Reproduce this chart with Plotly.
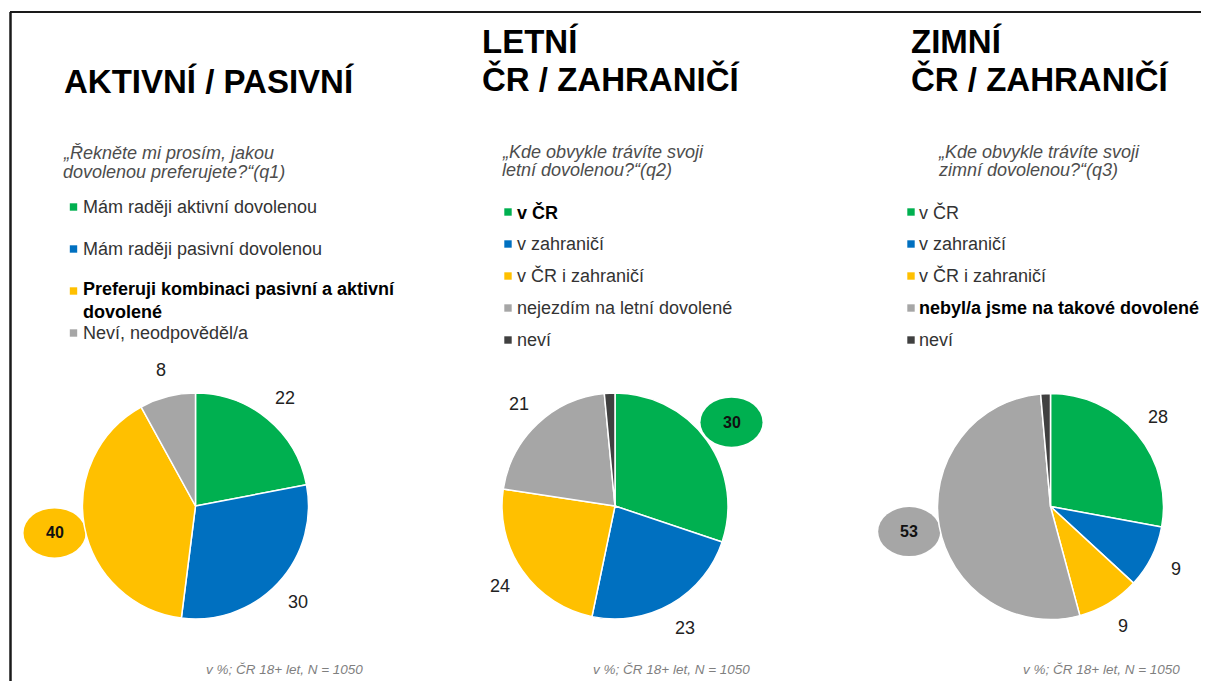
import math
import textwrap
import plotly.graph_objects as go

# ---------------- data ----------------
q1_categories = ["Mám raději aktivní dovolenou", "Mám raději pasivní dovolenou",
                 "Preferuji kombinaci pasivní a aktivní dovolené", "Neví, neodpověděl/a"]
q1_values = [22, 30, 40, 8]
q1_highlight = 2

q2_categories = ["v ČR", "v zahraničí", "v ČR i zahraničí", "nejezdím na letní dovolené", "neví"]
q2_values = [30, 23, 24, 21, 1.5]
q2_highlight = 0

q3_categories = ["v ČR", "v zahraničí", "v ČR i zahraničí", "nebyl/a jsme na takové dovolené", "neví"]
q3_values = [28, 9, 9, 53, 1.4]
q3_highlight = 3

q1_colors = ["#00B050", "#0070C0", "#FFC000", "#A6A6A6"]
q23_colors = ["#00B050", "#0070C0", "#FFC000", "#A6A6A6", "#404040"]

q1_title = ["AKTIVNÍ / PASIVNÍ"]
q2_title = ["LETNÍ", "ČR / ZAHRANIČÍ"]
q3_title = ["ZIMNÍ", "ČR / ZAHRANIČÍ"]

q1_question = ["„Řekněte mi prosím, jakou", "dovolenou preferujete?“(q1)"]
q2_question = ["„Kde obvykle trávíte svoji", "letní dovolenou?“(q2)"]
q3_question = ["„Kde obvykle trávíte svoji", "zimní dovolenou?“(q3)"]

footer_text = "v %; ČR 18+ let, N = 1050"

# ---------------- layout config (pixels, in window coordinates) ----------------
OFF = 8                      # default page margin of the html body
W, H = 1209 - OFF, 681 - OFF
FONT = "Arial, Liberation Sans, sans-serif"


def px(x):
    return (x - OFF) / W


def py(y):
    return 1 - (y - OFF) / H


panels = [
    dict(cats=q1_categories, vals=q1_values, cols=q1_colors, hl=q1_highlight,
         title=q1_title, title_x=62, title_y=[81],
         question=q1_question, q_x=61, q_y=[153, 172],
         cx=195.5, cy=506, r=113,
         leg_sq=73.5, leg_x=81, leg_y0=207, leg_step=42,
         foot_x=284),
    dict(cats=q2_categories, vals=q2_values, cols=q23_colors, hl=q2_highlight,
         title=q2_title, title_x=480, title_y=[41, 79.5],
         question=q2_question, q_x=500, q_y=[152, 170],
         cx=615, cy=506, r=113,
         leg_sq=508, leg_x=515, leg_y0=212, leg_step=32,
         foot_x=671),
    dict(cats=q3_categories, vals=q3_values, cols=q23_colors, hl=q3_highlight,
         title=q3_title, title_x=909, title_y=[41, 79.5],
         question=q3_question, q_x=936, q_y=[152, 170],
         cx=1050.5, cy=506.5, r=113,
         leg_sq=911, leg_x=917, leg_y0=212, leg_step=32,
         foot_x=1101),
]

LABEL_DIST = 1.24
BUBBLE_DIST = 1.27
FOOT_Y = 669

fig = go.Figure()
annotations = []
shapes = []

# frame
shapes.append(dict(type="line", xref="paper", yref="paper", x0=px(10), x1=px(1215),
                   y0=py(12), y1=py(12), line=dict(color="#1a1a1a", width=2)))
shapes.append(dict(type="line", xref="paper", yref="paper", x0=px(10.5), x1=px(10.5),
                   y0=py(12), y1=py(690), line=dict(color="#1a1a1a", width=2.5)))

for p in panels:
    cx, cy, r = p["cx"], p["cy"], p["r"]
    fig.add_trace(go.Pie(
        labels=p["cats"], values=p["vals"],
        marker=dict(colors=p["cols"], line=dict(color="white", width=1.5)),
        sort=False, direction="clockwise", rotation=0,
        textinfo="none", showlegend=False,
        domain=dict(x=[px(cx - r), px(cx + r)], y=[py(cy + r), py(cy - r)]),
        hoverinfo="label+value",
    ))

    # value labels
    total = sum(p["vals"])
    cum = 0
    for i, v in enumerate(p["vals"]):
        mid = math.radians((cum + v / 2) / total * 360)
        cum += v
        if v < 5:
            continue
        d = (BUBBLE_DIST if i == p["hl"] else LABEL_DIST) * r
        lx = cx + d * math.sin(mid)
        ly = cy - d * math.cos(mid)
        if i == p["hl"]:
            shapes.append(dict(type="circle", xref="paper", yref="paper", layer="below",
                               x0=px(lx - 31), x1=px(lx + 31), y0=py(ly + 24.5), y1=py(ly - 24.5),
                               fillcolor=p["cols"][i], line=dict(width=0)))
            annotations.append(dict(x=px(lx), y=py(ly), xref="paper", yref="paper",
                                    text=f"<b>{v:g}</b>", showarrow=False,
                                    font=dict(family=FONT, size=16, color="#111111"),
                                    xanchor="center", yanchor="middle"))
        else:
            annotations.append(dict(x=px(lx), y=py(ly), xref="paper", yref="paper",
                                    text=f"{v:g}", showarrow=False,
                                    font=dict(family=FONT, size=18, color="#222222"),
                                    xanchor="center", yanchor="middle"))

    # titles
    for line, ty in zip(p["title"], p["title_y"]):
        annotations.append(dict(x=px(p["title_x"]), y=py(ty), xref="paper", yref="paper",
                                text=f"<b>{line}</b>", showarrow=False,
                                font=dict(family=FONT, size=33, color="#000000"),
                                xanchor="left", yanchor="middle"))
    # question
    for line, qy in zip(p["question"], p["q_y"]):
        annotations.append(dict(x=px(p["q_x"]), y=py(qy), xref="paper", yref="paper",
                                text=f"<i>{line}</i>", showarrow=False,
                                font=dict(family=FONT, size=18, color="#4d4d4d"),
                                xanchor="left", yanchor="middle"))
    # legend
    fs = 18
    for i, (cat, col) in enumerate(zip(p["cats"], p["cols"])):
        ly = p["leg_y0"] + i * p["leg_step"]
        lines = textwrap.wrap(cat, 38)
        txt = "<br>".join(lines)
        if i == p["hl"]:
            txt = "<br>".join(f"<b>{l}</b>" for l in lines)
        center = ly + (len(lines) - 1) * 19 / 2
        shapes.append(dict(type="rect", xref="paper", yref="paper",
                           x0=px(p["leg_sq"] - 3.7), x1=px(p["leg_sq"] + 3.7),
                           y0=py(ly + 3.7), y1=py(ly - 3.7),
                           fillcolor=col, line=dict(width=0)))
        annotations.append(dict(x=px(p["leg_x"]), y=py(center), xref="paper", yref="paper",
                                text=txt, showarrow=False, align="left",
                                font=dict(family=FONT, size=fs,
                                          color="#000000" if i == p["hl"] else "#333333"),
                                xanchor="left", yanchor="middle"))
    # footer
    annotations.append(dict(x=px(p["foot_x"]), y=py(FOOT_Y), xref="paper", yref="paper",
                            text=f"<i>{footer_text}</i>", showarrow=False,
                            font=dict(family=FONT, size=13.5, color="#7f7f7f"),
                            xanchor="center", yanchor="middle"))

fig.update_layout(
    width=W, height=H,
    margin=dict(l=0, r=0, t=0, b=0),
    paper_bgcolor="white", plot_bgcolor="white",
    annotations=annotations, shapes=shapes,
    showlegend=False,
)

fig.write_html("out.html")
